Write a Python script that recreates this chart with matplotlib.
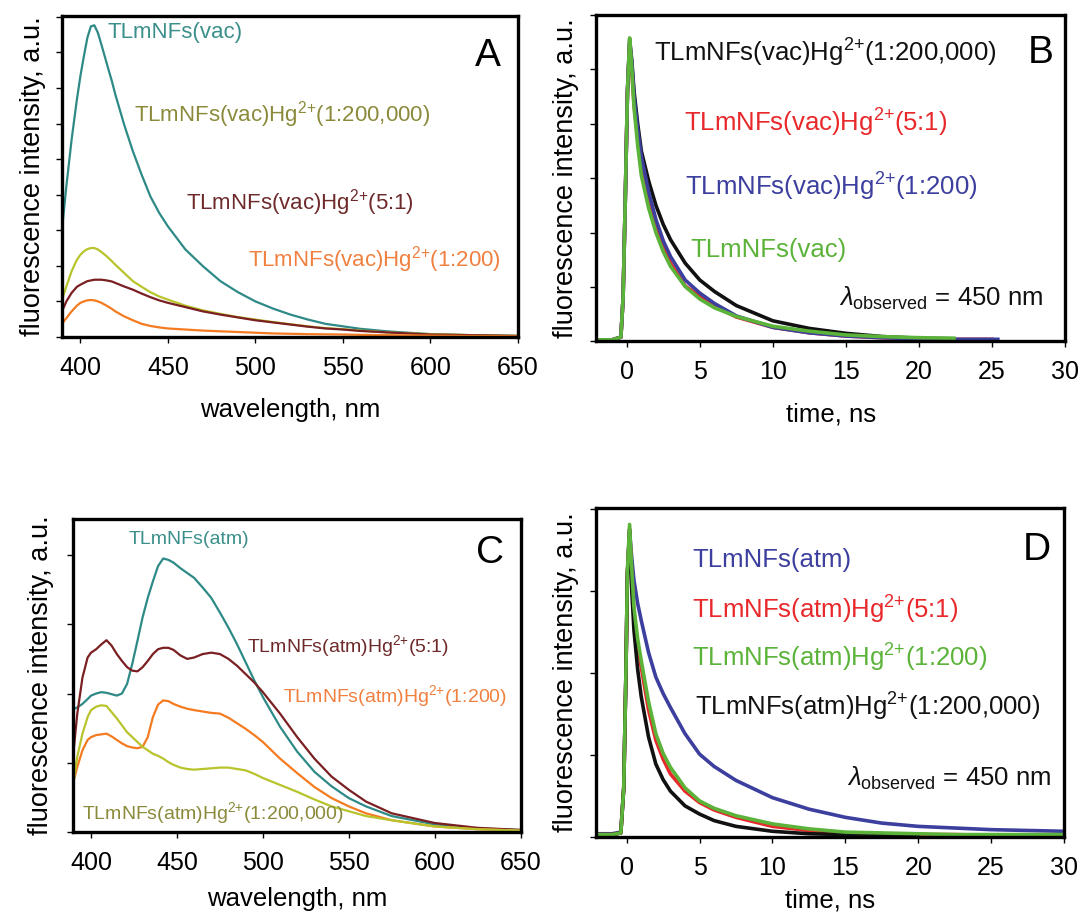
import matplotlib
matplotlib.use("Agg")
import matplotlib.pyplot as plt

plt.rcParams['font.family'] = ['Liberation Sans', 'DejaVu Sans']
plt.rcParams['mathtext.fontset'] = 'custom'
plt.rcParams['mathtext.rm'] = 'Liberation Sans'
plt.rcParams['mathtext.it'] = 'Liberation Sans:italic'
plt.rcParams['mathtext.bf'] = 'Liberation Sans:bold'

# ---- panel A: emission spectra, vacuum samples ----
wl_a = [389.5, 392, 395, 398, 400, 402, 404, 406, 408, 410, 412, 415, 418, 420, 425,
        430, 435, 440, 445, 450, 460, 470, 480, 490, 500, 510, 520, 530, 540, 550,
        560, 575, 600, 625, 650]
a_vac = [3.02, 4.24, 5.55, 6.67, 7.33, 7.89, 8.41, 8.73, 8.76, 8.55, 8.22, 7.70, 7.19, 6.81, 5.97,
         5.22, 4.56, 3.95, 3.49, 3.11, 2.46, 1.99, 1.57, 1.26, 1.00, 0.80, 0.63, 0.49, 0.37, 0.30,
         0.23, 0.16, 0.08, 0.05, 0.03]
a_200000 = [1.05, 1.42, 1.85, 2.17, 2.31, 2.41, 2.47, 2.50, 2.50, 2.46, 2.39, 2.27, 2.13, 2.03, 1.80,
            1.57, 1.41, 1.26, 1.14, 1.05, 0.88, 0.75, 0.65, 0.56, 0.49, 0.42, 0.36, 0.30, 0.25, 0.22,
            0.18, 0.13, 0.08, 0.05, 0.03]
a_5to1 = [0.72, 1.00, 1.24, 1.41, 1.47, 1.52, 1.57, 1.59, 1.61, 1.61, 1.61, 1.59, 1.56, 1.52, 1.42,
          1.33, 1.22, 1.12, 1.03, 0.96, 0.84, 0.72, 0.63, 0.55, 0.47, 0.41, 0.35, 0.29, 0.24, 0.21,
          0.17, 0.13, 0.07, 0.05, 0.03]
a_200 = [0.37, 0.53, 0.72, 0.88, 0.96, 1.00, 1.03, 1.04, 1.03, 1.00, 0.96, 0.88, 0.79, 0.72, 0.58,
         0.47, 0.37, 0.31, 0.27, 0.24, 0.21, 0.18, 0.16, 0.14, 0.12, 0.10, 0.09, 0.08, 0.075, 0.07,
         0.06, 0.05, 0.04, 0.03, 0.02]

# ---- panel C: emission spectra, atmosphere samples ----
wl_c = [389.5, 392, 395, 398, 400, 403, 406, 409, 412, 415, 418, 421, 424, 427, 430, 433, 436,
        439, 442, 445, 448, 452, 456, 460, 465, 470, 475, 480, 485, 490, 495, 500, 510, 520,
        530, 540, 550, 560, 575, 600, 625, 650]
c_atm = [1.77, 1.80, 1.85, 1.92, 1.97, 2.00, 2.02, 2.01, 1.99, 1.97, 2.00, 2.14, 2.43, 2.76, 3.10, 3.38, 3.62,
         3.84, 3.95, 3.93, 3.89, 3.81, 3.74, 3.67, 3.53, 3.38, 3.17, 2.95, 2.71, 2.45, 2.19, 1.95, 1.52, 1.16,
         0.87, 0.66, 0.49, 0.37, 0.23, 0.11, 0.05, 0.03]
c_5to1 = [1.09, 1.71, 2.23, 2.52, 2.59, 2.64, 2.71, 2.77, 2.69, 2.57, 2.47, 2.38, 2.33, 2.32, 2.38, 2.47, 2.57,
          2.64, 2.66, 2.66, 2.63, 2.55, 2.50, 2.52, 2.57, 2.59, 2.57, 2.50, 2.40, 2.28, 2.16, 2.02, 1.71, 1.37,
          1.06, 0.80, 0.61, 0.44, 0.27, 0.13, 0.06, 0.03]
c_200 = [0.70, 0.94, 1.18, 1.33, 1.37, 1.40, 1.41, 1.42, 1.38, 1.33, 1.28, 1.24, 1.22, 1.21, 1.23, 1.37, 1.66,
         1.84, 1.90, 1.89, 1.85, 1.81, 1.78, 1.76, 1.74, 1.72, 1.71, 1.65, 1.57, 1.49, 1.40, 1.30, 1.06, 0.85,
         0.65, 0.49, 0.37, 0.27, 0.17, 0.08, 0.04, 0.02]
c_200000 = [0.68, 1.09, 1.42, 1.66, 1.76, 1.81, 1.83, 1.82, 1.73, 1.64, 1.54, 1.44, 1.37, 1.30, 1.23, 1.18, 1.13,
            1.10, 1.06, 1.01, 0.97, 0.93, 0.91, 0.90, 0.91, 0.92, 0.93, 0.93, 0.91, 0.89, 0.84, 0.78, 0.68, 0.58,
            0.47, 0.37, 0.30, 0.23, 0.17, 0.08, 0.04, 0.02]

# ---- panel B: decays, vacuum samples ----
t_b = [-1.8, -1.0, -0.4, -0.25, -0.1, 0.05, 0.2, 0.35, 0.5, 0.75, 1.0, 1.5, 2, 2.5, 3, 4, 5, 6,
       7.5, 10, 12.5, 15, 17.5, 20, 22.4]
b_200000 = [0.03, 0.03, 0.08, 0.8, 2.6, 4.6, 5.55, 5.15, 4.6, 4.0, 3.5, 2.95, 2.5, 2.15, 1.87, 1.44, 1.13, 0.92,
            0.66, 0.38, 0.24, 0.15, 0.09, 0.06, 0.05]
b_5to1 = [0.03, 0.03, 0.08, 0.8, 2.6, 4.6, 5.45, 4.95, 4.35, 3.75, 3.25, 2.6, 2.1, 1.72, 1.44, 1.02, 0.83, 0.66,
          0.45, 0.26, 0.16, 0.10, 0.07, 0.05, 0.04]
b_200 = [0.03, 0.03, 0.08, 0.8, 2.6, 4.6, 5.5, 5.1, 4.5, 3.9, 3.4, 2.75, 2.24, 1.85, 1.56, 1.13, 0.89, 0.70,
         0.47, 0.26, 0.16, 0.10, 0.07, 0.05, 0.04]
b_vac = [0.03, 0.03, 0.08, 0.8, 2.6, 4.6, 5.58, 5.0, 4.3, 3.6, 3.05, 2.45, 2.0, 1.65, 1.38, 1.01, 0.78, 0.62,
         0.46, 0.28, 0.19, 0.12, 0.09, 0.07, 0.06]
# red and blue traces run a little longer than the others
t_b_red_end = 25.0
b_5to1_end = 0.04
t_b_blue_end = 25.4
b_200_end = 0.04

# ---- panel D: decays, atmosphere samples ----
t_d = [-2.1, -1.0, -0.4, -0.2, -0.05, 0.05, 0.2, 0.35, 0.5, 0.75, 1, 1.5, 2, 2.5, 3, 4, 5, 6,
       7.5, 10, 12.5, 15, 17.5, 20, 22.5, 25, 27.5, 30]
d_atm = [0.04, 0.04, 0.06, 0.6, 2.0, 3.2, 3.72, 3.4, 3.13, 2.85, 2.64, 2.25, 1.95, 1.75, 1.58, 1.26, 1.01, 0.86,
         0.69, 0.48, 0.34, 0.24, 0.17, 0.13, 0.11, 0.09, 0.08, 0.07]
d_5to1 = [0.03, 0.03, 0.05, 0.6, 2.0, 3.2, 3.75, 3.2, 2.73, 2.35, 2.07, 1.55, 1.18, 0.95, 0.77, 0.56, 0.42, 0.33,
          0.24, 0.13, 0.08, 0.05, 0.04, 0.03, 0.03, 0.02, 0.02, 0.02]
d_200 = [0.03, 0.03, 0.05, 0.6, 2.0, 3.25, 3.81, 3.25, 2.8, 2.42, 2.15, 1.65, 1.26, 1.02, 0.85, 0.60, 0.44, 0.35,
         0.26, 0.16, 0.10, 0.06, 0.05, 0.04, 0.03, 0.03, 0.03, 0.03]
t_d_black = t_d[:24]
d_200000 = [0.03, 0.03, 0.05, 0.6, 2.0, 3.2, 3.75, 3.0, 2.52, 2.05, 1.71, 1.22, 0.89, 0.70, 0.56, 0.38, 0.28, 0.20,
            0.13, 0.07, 0.04, 0.03, 0.02, 0.02]

TEAL = '#2e8a86'
YGREEN = '#b8c42c'
DRED = '#7a1f22'
ORANGE = '#f47b20'
BLACK = '#111111'
RED = '#e8282a'
BLUE = '#3c3f9e'
GREEN = '#5cb33a'

HG = 'Hg$^{2{+}}$'

fig = plt.figure(figsize=(10.8, 9.17), dpi=100)
axA = fig.add_axes([0.0574, 0.6325, 0.4222, 0.350])
axB = fig.add_axes([0.5519, 0.6276, 0.4343, 0.356])
axC = fig.add_axes([0.0676, 0.0927, 0.4144, 0.3413])
axD = fig.add_axes([0.5519, 0.0872, 0.4333, 0.3588])


def style(ax, xlim, ylim, xticks, xlabel, ypad, xpad):
    ax.set_xlim(*xlim)
    ax.set_ylim(*ylim)
    ax.set_xticks(xticks)
    ax.set_yticks(range(0, int(ylim[1]) + 1))
    ax.set_yticklabels([])
    for s in ax.spines.values():
        s.set_linewidth(2.4)
        s.set_color('black')
    ax.tick_params(direction='out', length=4.5, width=1.0, labelsize=18, pad=9)
    ax.set_xlabel(xlabel, fontsize=18.5, labelpad=xpad)
    ax.set_ylabel('fluorescence intensity, a.u.', fontsize=19.5, labelpad=ypad)


# A
axA.plot(wl_a, a_vac, color=TEAL, lw=1.6)
axA.plot(wl_a, a_200000, color=YGREEN, lw=1.6)
axA.plot(wl_a, a_5to1, color=DRED, lw=1.6)
axA.plot(wl_a, a_200, color=ORANGE, lw=1.6)
style(axA, (389.5, 650), (0, 9.02), range(400, 651, 50), 'wavelength, nm', -2, 13)
fsA = 16
axA.text(415.3, 8.55, 'TLmNFs(vac)', color='#3a8f8a', fontsize=fsA, va='center')
axA.text(430.6, 6.25, 'TLmNFs(vac)' + HG + '(1:200,000)', color='#8a8a3a', fontsize=fsA, va='center')
axA.text(460.4, 3.77, 'TLmNFs(vac)' + HG + '(5:1)', color='#6e2a2a', fontsize=fsA, va='center')
axA.text(495.7, 2.17, 'TLmNFs(vac)' + HG + '(1:200)', color='#f08040', fontsize=fsA, va='center')
axA.text(633, 7.9, 'A', fontsize=28, ha='center', va='center')

# B
axB.plot(t_b, b_200000, color=BLACK, lw=2.6)
axB.plot(t_b + [t_b_red_end], b_5to1 + [b_5to1_end], color=RED, lw=2.6)
axB.plot(t_b + [t_b_blue_end], b_200 + [b_200_end], color=BLUE, lw=2.6)
axB.plot(t_b, b_vac, color=GREEN, lw=2.6)
style(axB, (-2.1, 30), (0, 6.0), range(0, 31, 5), 'time, ns', -1, 13)
fsB = 18.5
axB.text(1.89, 5.31, 'TLmNFs(vac)' + HG + '(1:200,000)', color=BLACK, fontsize=fsB, va='center')
axB.text(3.9, 4.02, 'TLmNFs(vac)' + HG + '(5:1)', color=RED, fontsize=fsB, va='center')
axB.text(4.0, 2.85, 'TLmNFs(vac)' + HG + '(1:200)', color=BLUE, fontsize=fsB, va='center')
axB.text(4.36, 1.69, 'TLmNFs(vac)', color=GREEN, fontsize=fsB, va='center')
axB.text(14.5, 0.8, r'$\lambda_{\mathrm{observed}}$ = 450 nm', color=BLACK, fontsize=fsB, va='center')
axB.text(28.3, 5.31, 'B', fontsize=28, ha='center', va='center')

# C
axC.plot(wl_c, c_atm, color=TEAL, lw=1.6)
axC.plot(wl_c, c_5to1, color=DRED, lw=1.6)
axC.plot(wl_c, c_200, color=ORANGE, lw=1.6)
axC.plot(wl_c, c_200000, color=YGREEN, lw=1.6)
style(axC, (389.5, 650), (0, 4.52), range(400, 651, 50), 'wavelength, nm', 0, 9)
fsC = 14
axC.text(422, 4.22, 'TLmNFs(atm)', color='#3a8f8a', fontsize=fsC, va='center')
axC.text(490.5, 2.69, 'TLmNFs(atm)' + HG + '(5:1)', color='#6e2a2a', fontsize=fsC, va='center')
axC.text(511.7, 1.97, 'TLmNFs(atm)' + HG + '(1:200)', color='#f08040', fontsize=fsC, va='center')
axC.text(395, 0.27, 'TLmNFs(atm)' + HG + '(1:200,000)', color='#8a8a3a', fontsize=fsC, va='center')
axC.text(632, 4.03, 'C', fontsize=28, ha='center', va='center')

# D
axD.plot(t_d, d_atm, color=BLUE, lw=2.6)
axD.plot(t_d, d_5to1, color=RED, lw=2.6)
axD.plot(t_d_black, d_200000, color=BLACK, lw=2.6)
axD.plot(t_d, d_200, color=GREEN, lw=2.6)
style(axD, (-2.1, 30), (0, 4.01), range(0, 31, 5), 'time, ns', -1, 6)
axD.text(4.48, 3.38, 'TLmNFs(atm)', color=BLUE, fontsize=fsB, va='center')
axD.text(4.48, 2.77, 'TLmNFs(atm)' + HG + '(5:1)', color=RED, fontsize=fsB, va='center')
axD.text(4.48, 2.18, 'TLmNFs(atm)' + HG + '(1:200)', color=GREEN, fontsize=fsB, va='center')
axD.text(4.67, 1.58, 'TLmNFs(atm)' + HG + '(1:200,000)', color=BLACK, fontsize=fsB, va='center')
axD.text(15.1, 0.71, r'$\lambda_{\mathrm{observed}}$ = 450 nm', color=BLACK, fontsize=fsB, va='center')
axD.text(28.1, 3.5, 'D', fontsize=28, ha='center', va='center')

fig.savefig('out.png', dpi=100)
